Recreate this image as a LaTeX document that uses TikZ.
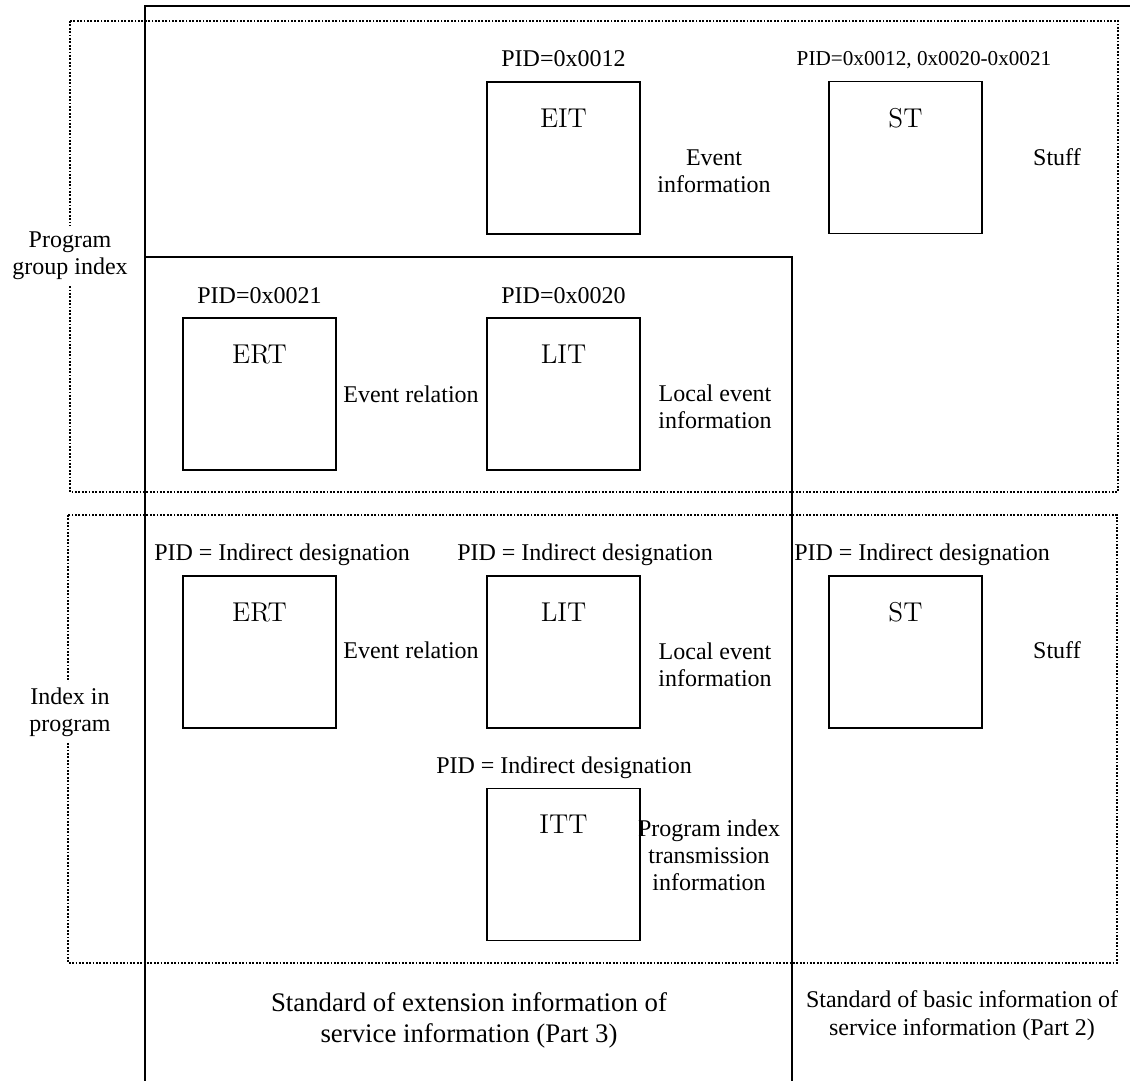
\documentclass[tikz,border=0pt]{standalone}
\usepackage{fontspec}
\newfontfamily\tnr{Liberation Serif}
\tikzset{
  partline/.style={line width=1pt},
  groupline/.style={line width=0.9pt,dash pattern=on 0.9pt off 0.8pt},
  tbl/.style={draw,line width=0.8pt,minimum width=76.5pt,minimum height=76pt,inner sep=0pt},
  tblname/.style={below=13.5pt,inner sep=0pt,font=\fontsize{13.6}{16}\selectfont},
  pid/.style={anchor=base,inner sep=0pt,font=\tnr\fontsize{12}{13.5}\selectfont},
  desc/.style={anchor=base,align=center,inner sep=0pt,font=\tnr\fontsize{12}{13.5}\selectfont},
  grp/.style={align=center,fill=white,inner sep=3pt,font=\tnr\fontsize{12}{13.5}\selectfont},
  std/.style={anchor=base,align=center,inner sep=0pt,font=\tnr\fontsize{13.4}{15.5}\selectfont},
  stdb/.style={anchor=base,align=center,inner sep=0pt,font=\tnr\fontsize{12}{13.6}\selectfont}
}

\begin{document}
\begin{tikzpicture}[x=0.5pt,y=-0.5pt]
  \useasboundingbox (0,0) rectangle (1130,1081);
  % parts of the standard
  \draw[partline] (145,1081) -- (145,6) -- (1130,6);
  \draw[partline] (145,257) -- (792,257) -- (792,1081);
  % index groups
  \draw[groupline] (70,21) rectangle (1118,492);
  \draw[groupline] (68,515) rectangle (1117,963);
  \node[grp] (pgi) at (70,256) {Program\\group index};
  \node[grp] (iip) at (70,712) {Index in\\program};
  % program group index
  \node[tbl] (eit) at (563.5,158) {};
  \node[tblname] (eitname) at (eit.north) {EIT};
  \node[pid] (eitpid) at (563.5,67) {PID=0x0012};
  \node[desc] (eitdesc) at (714,192) {Event\\information};
  \node[tbl] (st) at (905.5,157.5) {};
  \node[tblname] (stname) at (st.north) {ST};
  \node[pid,font=\tnr\fontsize{10.6}{12}\selectfont] (stpid) at (924,66) {PID=0x0012, 0x0020-0x0021};
  \node[desc] (stdesc) at (1057,165) {Stuff};
  \node[tbl] (ertA) at (259.5,394) {};
  \node[tblname] (ertAname) at (ertA.north) {ERT};
  \node[pid] (ertApid) at (259.5,303) {PID=0x0021};
  \node[desc] (ertAdesc) at (411,402) {Event relation};
  \node[tbl] (litA) at (563.5,394) {};
  \node[tblname] (litAname) at (litA.north) {LIT};
  \node[pid] (litApid) at (563.5,303) {PID=0x0020};
  \node[desc] (litAdesc) at (715,428) {Local event\\information};
  % index in program
  \node[tbl] (ertB) at (259.5,652) {};
  \node[tblname] (ertBname) at (ertB.north) {ERT};
  \node[pid] (ertBpid) at (282,560) {PID = Indirect designation};
  \node[desc] (ertBdesc) at (411,658) {Event relation};
  \node[tbl] (litB) at (563.5,652) {};
  \node[tblname] (litBname) at (litB.north) {LIT};
  \node[pid] (litBpid) at (585,560) {PID = Indirect designation};
  \node[desc] (litBdesc) at (715,686) {Local event\\information};
  \node[tbl] (stB) at (905.5,652) {};
  \node[tblname] (stBname) at (stB.north) {ST};
  \node[pid] (stBpid) at (922,560) {PID = Indirect designation};
  \node[desc] (stBdesc) at (1057,658) {Stuff};
  \node[tbl] (itt) at (563.5,864.5) {};
  \node[tblname] (ittname) at (itt.north) {ITT};
  \node[pid] (ittpid) at (564,773) {PID = Indirect designation};
  \node[desc] (ittdesc) at (709,890) {Program index\\transmission\\information};
  % parts
  \node[std] (part3) at (469,1042) {Standard of extension information of\\service information (Part 3)};
  \node[stdb] (part2) at (962,1035) {Standard of basic information of\\service information (Part 2)};
\end{tikzpicture}
\end{document}
